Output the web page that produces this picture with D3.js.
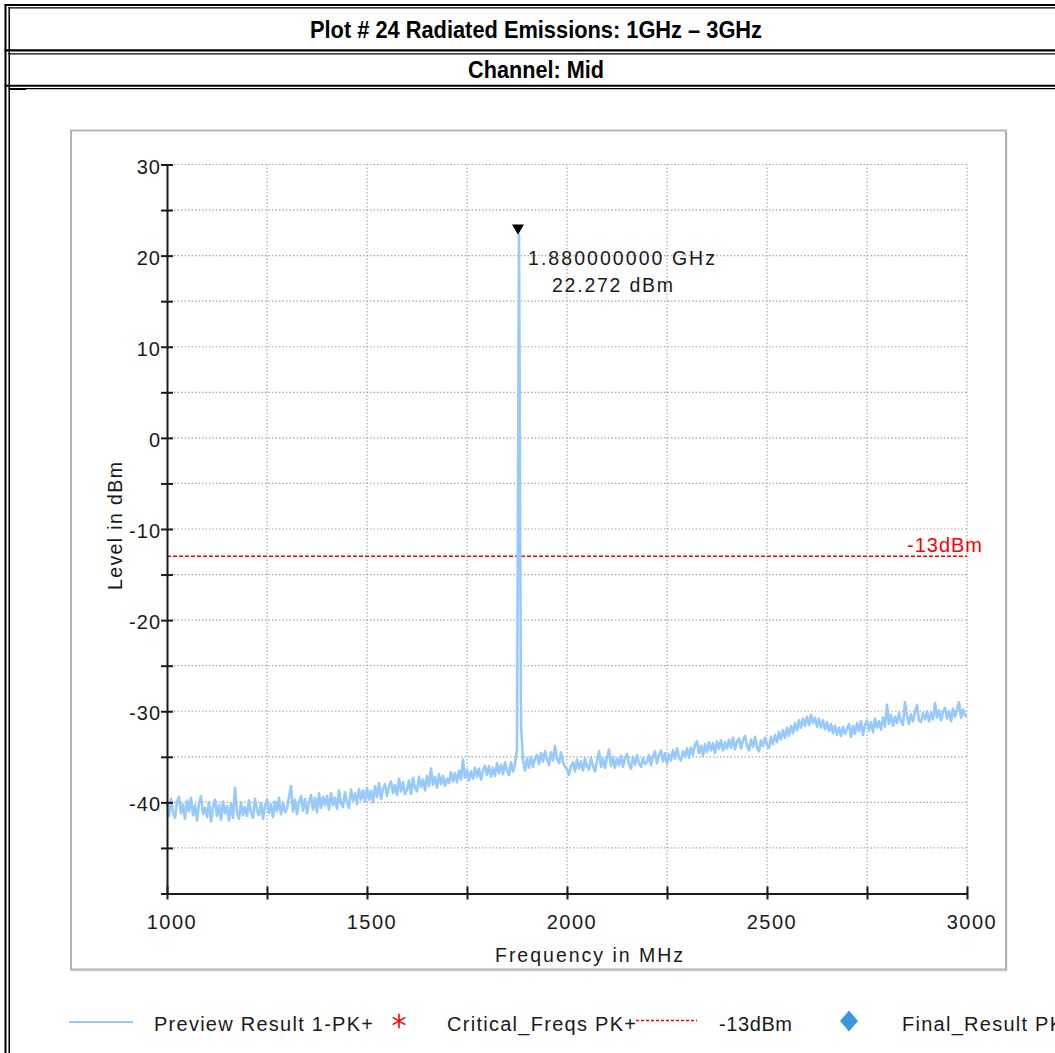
<!DOCTYPE html>
<html><head><meta charset="utf-8">
<script src="https://cdn.jsdelivr.net/npm/d3@7"></script>
<style>
body{margin:0;background:#fff;}
svg{display:block;font-family:"Liberation Sans",Arial,sans-serif;}
</style>
</head><body>
<svg id="c" width="1055" height="1053"></svg>
<script>
// ---------- data ----------
const titleText = "Plot # 24 Radiated Emissions: 1GHz \u2013 3GHz";
const subtitleText = "Channel: Mid";
const xLabel = "Frequency in MHz";
const yLabel = "Level in dBm";
const xDomain = [1000, 3000];
const yDomain = [-50, 30];
const xTickValues = [1000, 1250, 1500, 1750, 2000, 2250, 2500, 2750, 3000];
const xTickLabels = [1000, 1500, 2000, 2500, 3000];
const yTickValues = [-50, -45, -40, -35, -30, -25, -20, -15, -10, -5, 0, 5, 10, 15, 20, 25, 30];
const yTickLabels = [-40, -30, -20, -10, 0, 10, 20, 30];
const limitLevel = -13;
const limitLabel = "-13dBm";
const markerFreq = 1880;
const markerLevel = 22.272;
const markerLines = ["1.880000000 GHz", "22.272 dBm"];
const legendNames = ["Preview Result 1-PK+", "Critical_Freqs PK+", "-13dBm", "Final_Result PK+"];
const traceStartMHz = 1000;
const traceStepMHz = 5;
const traceLevels = [
  // 1000-1095
  -40.0,-41.5,-39.6,-41.1,-41.7,-39.9,-39.4,-41.2,-40.2,-41.8,-39.8,-41.0,-39.5,-41.4,-40.3,-42.0,-40.1,-39.3,-41.3,-40.6,
  // 1100-1195
  -41.6,-40.0,-42.1,-40.5,-39.7,-41.5,-40.3,-41.9,-39.9,-41.2,-40.4,-42.0,-40.1,-41.7,-38.4,-41.1,-41.8,-40.0,-41.4,-40.5,
  // 1200-1295
  -41.5,-39.8,-41.1,-41.7,-39.6,-40.9,-41.4,-40.1,-41.8,-40.3,-39.7,-41.2,-40.2,-41.6,-39.9,-41.0,-39.5,-41.3,-40.0,-41.1,
  // 1300-1395
  -40.7,-39.4,-38.2,-41.0,-39.7,-41.3,-40.0,-39.3,-40.9,-39.6,-41.2,-40.1,-39.2,-40.8,-39.5,-41.1,-39.0,-40.6,-39.4,-40.3,
  // 1400-1495
  -39.3,-40.8,-39.0,-40.3,-39.5,-40.7,-38.7,-40.1,-40.5,-38.9,-40.0,-40.6,-38.6,-39.8,-39.0,-40.2,-38.5,-39.7,-38.7,-39.9,
  // 1500-1595
  -38.4,-39.7,-38.7,-40.0,-38.2,-39.4,-37.9,-39.6,-38.5,-38.0,-39.3,-38.3,-37.7,-39.0,-38.1,-39.2,-37.4,-38.8,-37.8,-39.1,
  // 1600-1695
  -38.6,-37.6,-39.1,-37.3,-38.4,-38.8,-37.2,-38.3,-37.5,-38.7,-37.1,-38.2,-36.3,-38.1,-37.2,-38.4,-36.9,-38.0,-37.1,-38.2,
  // 1700-1795
  -37.4,-37.9,-36.7,-37.7,-36.8,-37.8,-36.5,-37.5,-35.3,-37.3,-36.4,-37.6,-36.6,-37.4,-36.2,-37.2,-36.3,-37.5,-36.5,-36.0,
  // 1800-1870
  -37.0,-36.0,-37.2,-36.2,-37.1,-35.7,-36.8,-35.9,-36.9,-35.6,-36.5,-37.0,-35.6,-36.6,-35.8,
  // 1875-1885 (carrier)
  -34.2, 22.272, -31.5,
  // 1890-1995
  -35.4,-36.5,-35.2,-36.2,-35.0,-36.1,-35.2,-34.8,-35.8,-34.6,-35.5,-34.4,-35.3,-35.9,-34.5,-35.4,-33.8,-35.2,-35.7,-34.5,-35.6,-36.1,
  // 2000-2095
  -36.4,-37.0,-36.0,-35.6,-36.6,-35.3,-36.3,-35.5,-36.5,-35.2,-36.1,-36.4,-35.1,-36.0,-36.6,-35.4,-34.4,-36.1,-35.2,-36.2,
  // 2100-2195
  -35.1,-34.2,-36.0,-35.0,-36.2,-35.2,-35.9,-34.9,-36.1,-35.1,-34.7,-35.8,-36.3,-35.0,-35.9,-34.8,-35.7,-36.1,-35.1,-35.8,
  // 2200-2295
  -35.6,-34.8,-35.9,-34.9,-34.4,-35.7,-34.8,-34.3,-35.5,-34.6,-35.8,-34.7,-35.4,-34.3,-35.2,-34.1,-35.1,-35.4,-34.4,-35.0,
  // 2300-2395
  -34.1,-35.1,-34.0,-34.8,-33.7,-33.3,-34.6,-33.8,-34.9,-33.6,-34.5,-33.4,-34.3,-33.5,-34.6,-33.3,-34.1,-33.2,-34.3,-33.4,
  // 2400-2495
  -34.1,-33.1,-34.0,-32.9,-34.2,-33.3,-33.0,-34.1,-33.2,-32.7,-33.8,-34.3,-33.1,-33.9,-32.8,-34.0,-34.4,-33.2,-33.8,-32.9,
  // 2500-2595
  -33.7,-34.0,-32.8,-33.6,-32.6,-33.4,-32.3,-33.1,-32.1,-32.9,-31.8,-32.7,-31.6,-32.4,-31.3,-32.1,-31.0,-31.8,-30.8,-31.6,
  // 2600-2695
  -30.6,-31.5,-30.4,-31.3,-30.7,-31.7,-30.8,-31.8,-31.0,-32.0,-31.2,-32.2,-31.4,-32.4,-31.6,-32.6,-31.8,-32.7,-31.7,-32.5,
  // 2700-2795
  -31.9,-31.4,-32.8,-31.6,-32.5,-31.3,-32.2,-31.1,-32.6,-31.5,-31.0,-32.1,-31.2,-32.3,-30.8,-31.8,-31.1,-32.0,-30.7,-31.7,
  // 2800-2895
  -29.3,-31.4,-30.4,-31.6,-30.6,-31.3,-30.2,-31.1,-31.5,-29.0,-30.5,-31.4,-30.3,-31.1,-30.1,-29.3,-31.0,-31.2,-30.2,-30.9,
  // 2900-3000
  -30.0,-31.1,-30.2,-30.9,-29.1,-30.7,-29.9,-31.0,-30.1,-29.6,-30.8,-30.0,-31.1,-29.7,-30.6,-29.8,-29.0,-30.7,-29.8,-30.5,-30.4
];

// ---------- drawing ----------
const svg = d3.select("#c");
const ink = "#1a1a1a";
const traceColor = "#97c9fb";

// outer report table frame
const frame = svg.append("g").attr("stroke", "#000").attr("fill", "none");
frame.append("line").attr("x1", 5.5).attr("x2", 5.5).attr("y1", 4).attr("y2", 1053).attr("stroke-width", 2);
frame.append("line").attr("x1", 9.2).attr("x2", 9.2).attr("y1", 7).attr("y2", 1053).attr("stroke-width", 1.5);
[[4.9, 2, 4.5], [7.8, 1.3, 8.5], [50.3, 2.2, 4.5], [53.9, 1.4, 8.5], [85.8, 2, 4.5], [88.6, 1.3, 8.5]]
  .forEach(([yy, w, x0]) => frame.append("line").attr("x1", x0).attr("x2", 1055).attr("y1", yy).attr("y2", yy).attr("stroke-width", w));
frame.append("line").attr("x1", 9).attr("x2", 26).attr("y1", 89).attr("y2", 89).attr("stroke-width", 2);

svg.append("text").attr("x", 536).attr("y", 37.5).attr("text-anchor", "middle")
  .attr("font-size", 23).attr("font-weight", "bold").attr("fill", "#000")
  .attr("textLength", 452).attr("lengthAdjust", "spacingAndGlyphs").text(titleText);
svg.append("text").attr("x", 536).attr("y", 78).attr("text-anchor", "middle")
  .attr("font-size", 23).attr("font-weight", "bold").attr("fill", "#000")
  .attr("textLength", 136).attr("lengthAdjust", "spacingAndGlyphs").text(subtitleText);

// plot panel
svg.append("rect").attr("x", 73).attr("y", 132).attr("width", 935).attr("height", 840).attr("fill", "#ececec");
svg.append("rect").attr("x", 71).attr("y", 130.5).attr("width", 935).attr("height", 839).attr("fill", "#fff")
  .attr("stroke", "#b3b3b3").attr("stroke-width", 2);

const x = d3.scaleLinear().domain(xDomain).range([167, 967]);
const y = d3.scaleLinear().domain(yDomain).range([893.5, 164.5]);

// grid
const grid = svg.append("g").attr("stroke", "#a9a9a9").attr("stroke-width", 1.2).attr("stroke-dasharray", "1.5,2");
grid.selectAll(".gy").data(yTickValues.filter(v => v > yDomain[0])).join("line")
  .attr("x1", x(xDomain[0])).attr("x2", x(xDomain[1])).attr("y1", d => y(d)).attr("y2", d => y(d));
grid.selectAll(".gx").data(xTickValues.filter(v => v > xDomain[0])).join("line")
  .attr("y1", y(yDomain[0])).attr("y2", y(yDomain[1])).attr("x1", d => x(d)).attr("x2", d => x(d));

// limit line
svg.append("line").attr("x1", x(xDomain[0])).attr("x2", x(xDomain[1]))
  .attr("y1", y(limitLevel)).attr("y2", y(limitLevel))
  .attr("stroke", "#ff0000").attr("stroke-width", 1.5).attr("stroke-dasharray", "4,2");
svg.append("text").attr("x", 907).attr("y", y(limitLevel) - 4.5).attr("fill", "#ff0000")
  .attr("font-size", 20).attr("textLength", 75).attr("lengthAdjust", "spacing").text(limitLabel);

// trace
const line = d3.line().x((d, i) => x(traceStartMHz + i * traceStepMHz)).y(d => y(d));
svg.append("path").datum(traceLevels).attr("d", line).attr("fill", "none")
  .attr("stroke", traceColor).attr("stroke-width", 2.6).attr("stroke-linejoin", "round");

// marker
svg.append("path").attr("d", d3.symbol(d3.symbolTriangle, 62)())
  .attr("transform", `translate(${x(markerFreq) - 1},${y(markerLevel) - 7}) rotate(180)`)
  .attr("fill", "#000");
svg.append("text").attr("x", 528).attr("y", 265).attr("font-size", 19.5).attr("fill", ink)
  .attr("textLength", 187).attr("lengthAdjust", "spacing").text(markerLines[0]);
svg.append("text").attr("x", 552).attr("y", 291.5).attr("font-size", 19.5).attr("fill", ink)
  .attr("textLength", 121).attr("lengthAdjust", "spacing").text(markerLines[1]);

// axes
const yAxis = d3.axisLeft(y).tickValues(yTickValues).tickSize(6).tickSizeOuter(0)
  .tickFormat(d => yTickLabels.includes(d) ? String(d) : "");
const gy = svg.append("g").attr("transform", `translate(${x(xDomain[0])},0)`).call(yAxis);
gy.select(".domain").attr("stroke", ink).attr("stroke-width", 2);
gy.selectAll(".tick line").attr("x1", -6).attr("x2", 6).attr("stroke", ink).attr("stroke-width", 2);
gy.selectAll(".tick text").attr("x", -6).attr("dy", "0.43em").attr("fill", ink)
  .attr("font-size", 20).attr("font-family", "Liberation Sans, Arial, sans-serif").attr("letter-spacing", 1);

const xAxis = d3.axisBottom(x).tickValues(xTickValues).tickSize(6).tickSizeOuter(0)
  .tickFormat(d => xTickLabels.includes(d) ? String(d) : "");
const gx = svg.append("g").attr("transform", `translate(0,${y(yDomain[0])})`).call(xAxis);
gx.select(".domain").attr("stroke", ink).attr("stroke-width", 2);
gx.selectAll(".tick line").attr("y1", -7).attr("y2", 6).attr("stroke", ink).attr("stroke-width", 2);
gx.selectAll(".tick text").attr("x", 4.5).attr("y", 35.5).attr("dy", 0).attr("fill", ink)
  .attr("font-size", 20).attr("font-family", "Liberation Sans, Arial, sans-serif").attr("letter-spacing", 1.5);

// axis titles
svg.append("text").attr("transform", "translate(122,526) rotate(-90)").attr("text-anchor", "middle")
  .attr("font-size", 19.5).attr("fill", ink).attr("textLength", 128).attr("lengthAdjust", "spacing").text(yLabel);
svg.append("text").attr("x", 495).attr("y", 962).attr("font-size", 19.5).attr("fill", ink)
  .attr("textLength", 188).attr("lengthAdjust", "spacing").text(xLabel);

// legend
const lg = svg.append("g");
lg.append("line").attr("x1", 69).attr("x2", 133).attr("y1", 1022).attr("y2", 1022)
  .attr("stroke", traceColor).attr("stroke-width", 2);
lg.append("text").attr("x", 154).attr("y", 1031).attr("font-size", 20).attr("fill", ink)
  .attr("textLength", 219).attr("lengthAdjust", "spacing").text(legendNames[0]);
lg.append("path").attr("d", d3.symbol(d3.symbolAsterisk, 150)())
  .attr("transform", "translate(399,1021)").attr("stroke", "#ff0000").attr("stroke-width", 1.6).attr("fill", "none");
lg.append("text").attr("x", 447).attr("y", 1031).attr("font-size", 20).attr("fill", ink)
  .attr("textLength", 189).attr("lengthAdjust", "spacing").text(legendNames[1]);
lg.append("line").attr("x1", 636).attr("x2", 697).attr("y1", 1020.5).attr("y2", 1020.5)
  .attr("stroke", "#ff0000").attr("stroke-width", 1.5).attr("stroke-dasharray", "3,2");
lg.append("text").attr("x", 719).attr("y", 1031).attr("font-size", 20).attr("fill", ink)
  .attr("textLength", 73).attr("lengthAdjust", "spacing").text(legendNames[2]);
lg.append("path").attr("d", d3.symbol(d3.symbolSquare, 160)())
  .attr("transform", "translate(849,1021) scale(1,1.17) rotate(45)").attr("fill", "#3d96dc");
lg.append("text").attr("x", 902).attr("y", 1031).attr("font-size", 20).attr("fill", ink)
  .attr("textLength", 174).attr("lengthAdjust", "spacing").text(legendNames[3]);
</script>
</body></html>
